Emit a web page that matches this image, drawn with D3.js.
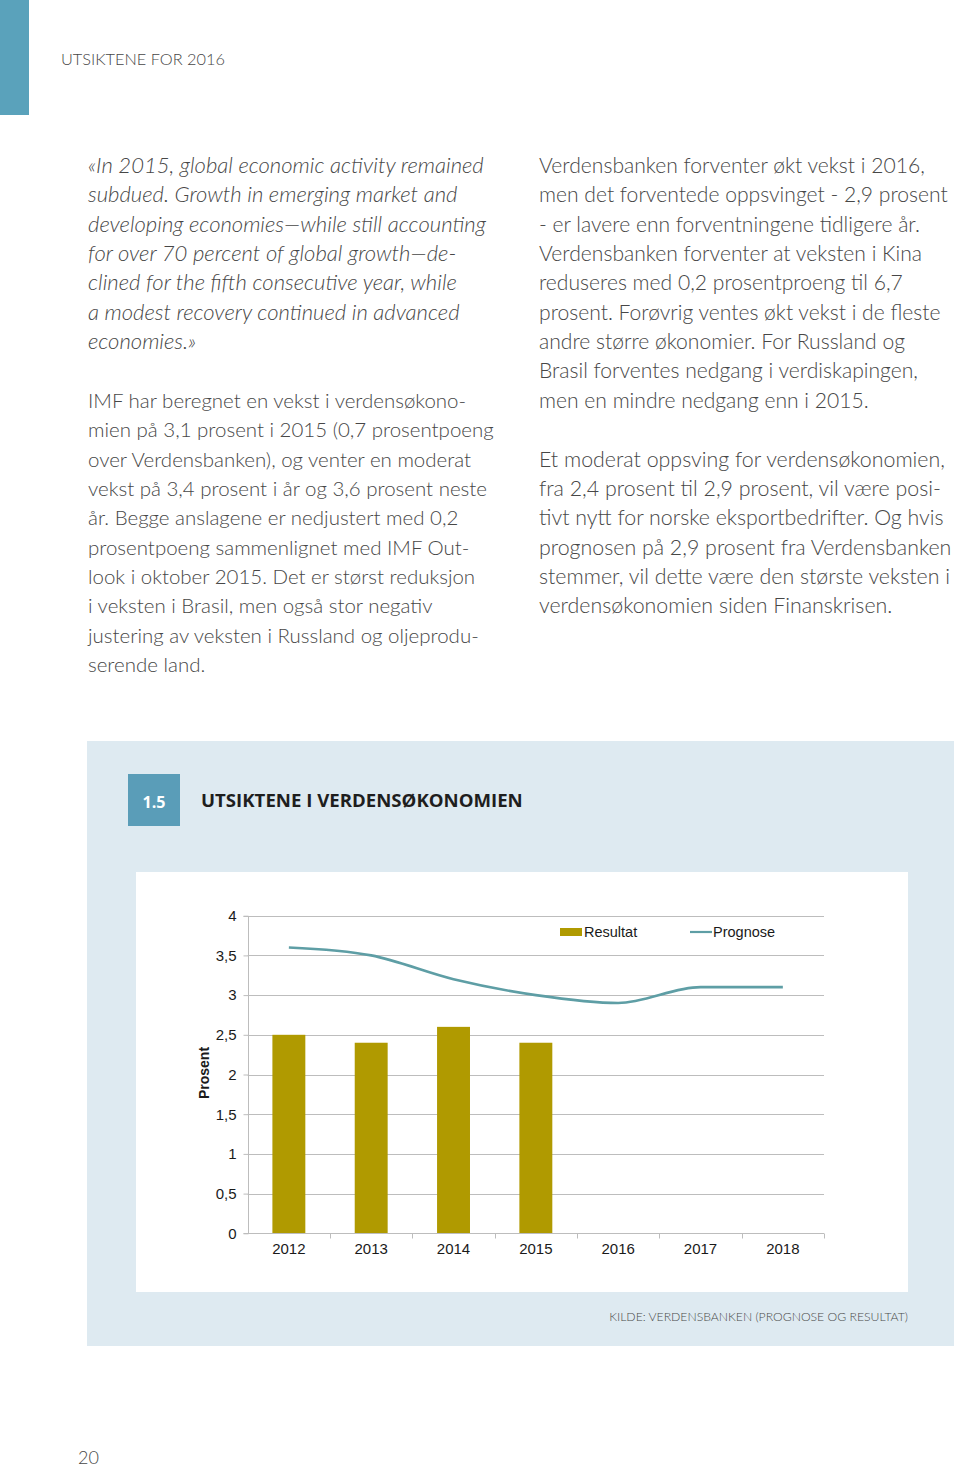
<!DOCTYPE html>
<html>
<head>
<meta charset="utf-8">
<script src="https://cdn.jsdelivr.net/npm/d3@7"></script>
<style>
  html, body { margin: 0; padding: 0; background: #fff; }
  svg { display: block; }
</style>
</head>
<body>
<svg id="page" width="960" height="1468"></svg>
<script>
// ---------- DATA ----------
const years = ["2012", "2013", "2014", "2015", "2016", "2017", "2018"];
const resultat = [2.5, 2.4, 2.6, 2.4, null, null, null];
const prognose = [3.6, 3.5, 3.2, 3.0, 2.9, 3.1, 3.1];
const yTicks = [0, 0.5, 1, 1.5, 2, 2.5, 3, 3.5, 4];
const seriesNames = ["Resultat", "Prognose"];

const pageHeader = "UTSIKTENE FOR 2016";
const chartNumber = "1.5";
const chartTitle = "UTSIKTENE I VERDENSØKONOMIEN";
const sourceText = "KILDE: VERDENSBANKEN (PROGNOSE OG RESULTAT)";
const yAxisTitle = "Prosent";
const pageNumber = "20";

const leftQuote = [
  "«In 2015, global economic activity remained",
  "subdued. Growth in emerging market and",
  "developing economies—while still accounting",
  "for over 70 percent of global growth—de-",
  "clined for the fifth consecutive year, while",
  "a modest recovery continued in advanced",
  "economies.»"
];
const leftBody = [
  "IMF har beregnet en vekst i verdensøkono-",
  "mien på 3,1 prosent i 2015 (0,7 prosentpoeng",
  "over Verdensbanken), og venter en moderat",
  "vekst på 3,4 prosent i år og 3,6 prosent neste",
  "år. Begge anslagene er nedjustert med 0,2",
  "prosentpoeng sammenlignet med IMF Out-",
  "look i oktober 2015. Det er størst reduksjon",
  "i veksten i Brasil, men også stor negativ",
  "justering av veksten i Russland og oljeprodu-",
  "serende land."
];
const rightPara1 = [
  "Verdensbanken forventer økt vekst i 2016,",
  "men det forventede oppsvinget - 2,9 prosent",
  "- er lavere enn forventningene tidligere år.",
  "Verdensbanken forventer at veksten i Kina",
  "reduseres med 0,2 prosentproeng til 6,7",
  "prosent. Forøvrig ventes økt vekst i de fleste",
  "andre større økonomier. For Russland og",
  "Brasil forventes nedgang i verdiskapingen,",
  "men en mindre nedgang enn i 2015."
];
const rightPara2 = [
  "Et moderat oppsving for verdensøkonomien,",
  "fra 2,4 prosent til 2,9 prosent, vil være posi-",
  "tivt nytt for norske eksportbedrifter. Og hvis",
  "prognosen på 2,9 prosent fra Verdensbanken",
  "stemmer, vil dette være den største veksten i",
  "verdensøkonomien siden Finanskrisen."
];

// ---------- HELPERS ----------
const svg = d3.select("#page");
const bodyFont = "Lato, 'Open Sans', sans-serif";
const chartFont = "'Liberation Sans', Arial, sans-serif";

function fitWidth(sel, target) {
  const node = sel.node();
  const w = node.getComputedTextLength();
  const fs = parseFloat(sel.attr("font-size"));
  const nfs = fs * target / w;
  sel.attr("font-size", nfs);
  return nfs;
}

function textBlock(lines, x, y0, lh, opts, fitIndex, fitTarget) {
  const g = svg.append("g");
  const t = g.selectAll("text").data(lines).join("text")
    .attr("x", x)
    .attr("y", (d, i) => y0 + i * lh)
    .attr("font-family", bodyFont)
    .attr("font-weight", 300)
    .attr("font-style", opts.italic ? "italic" : "normal")
    .attr("font-size", 20)
    .attr("fill", "#474747")
    .text(d => d);
  const ref = d3.select(t.nodes()[fitIndex]);
  const fs = fitWidth(ref, fitTarget);
  t.attr("font-size", fs);
}

// ---------- PAGE HEADER ----------
svg.append("rect").attr("x", 0).attr("y", 0).attr("width", 29).attr("height", 115).attr("fill", "#5aa2bb");
const hdr = svg.append("text").attr("x", 61).attr("y", 65)
  .attr("font-family", bodyFont).attr("font-weight", 300).attr("font-size", 17)
  .attr("fill", "#474747").text(pageHeader);
fitWidth(hdr, 164);

// ---------- BODY TEXT ----------
const LH = 29.35;
const Y0 = 173;
textBlock(leftQuote, 88, Y0, LH, { italic: true }, 0, 396);
textBlock(leftBody, 88, Y0 + 8 * LH, LH, { italic: false }, 1, 406);
textBlock(rightPara1, 539, Y0, LH, { italic: false }, 1, 409);
textBlock(rightPara2, 539, Y0 + 10 * LH, LH, { italic: false }, 0, 406);

// ---------- CHART SECTION ----------
svg.append("rect").attr("x", 87).attr("y", 741).attr("width", 867).attr("height", 605).attr("fill", "#deeaf1");
svg.append("rect").attr("x", 128).attr("y", 774).attr("width", 52).attr("height", 52).attr("fill", "#5a9db8");
const num = svg.append("text").attr("x", 154).attr("y", 808).attr("text-anchor", "middle")
  .attr("font-family", "'Open Sans', Lato, sans-serif").attr("font-weight", 700).attr("font-size", 18)
  .attr("fill", "#ffffff").text(chartNumber);
fitWidth(num, 23);
const ttl = svg.append("text").attr("x", 201).attr("y", 807)
  .attr("font-family", "'Open Sans', Lato, sans-serif").attr("font-weight", 700).attr("font-size", 19)
  .attr("fill", "#1e1e1e").text(chartTitle);
fitWidth(ttl, 322);

svg.append("rect").attr("x", 136).attr("y", 872).attr("width", 772).attr("height", 420).attr("fill", "#ffffff");

const src = svg.append("text").attr("x", 908).attr("y", 1321).attr("text-anchor", "end")
  .attr("font-family", bodyFont).attr("font-weight", 300).attr("font-size", 13)
  .attr("fill", "#4a4a4a").text(sourceText);
fitWidth(src, 299);

// ---------- CHART ----------
const plot = { left: 247.7, right: 824, top: 915.7, bottom: 1233.3 };
const x = d3.scaleBand().domain(years).range([plot.left, plot.right]).paddingInner(0).paddingOuter(0);
const y = d3.scaleLinear().domain([0, 4]).range([plot.bottom, plot.top]);
const barW = x.bandwidth() * 0.4;

const nbLocale = d3.formatLocale({ decimal: ",", thousands: " ", grouping: [3], currency: ["", " kr"] });
const fmt = nbLocale.format(".1~f");

const chart = svg.append("g");

// gridlines
chart.append("g").selectAll("line").data(yTicks.filter(d => d > 0)).join("line")
  .attr("x1", plot.left).attr("x2", plot.right)
  .attr("y1", d => Math.round(y(d)) + 0.5).attr("y2", d => Math.round(y(d)) + 0.5)
  .attr("stroke", "#bdbdbd").attr("stroke-width", 1);

// y axis
const yAxis = chart.append("g").attr("transform", `translate(${Math.round(plot.left) + 0.5},0)`)
  .call(d3.axisLeft(y).tickValues(yTicks).tickFormat(fmt).tickSize(5).tickPadding(7));
yAxis.select(".domain").attr("stroke", "#bdbdbd").attr("d", `M-5,${Math.round(plot.bottom) + 0.5}H0V${Math.round(plot.top) + 0.5}H-5`);
yAxis.selectAll(".tick line").attr("stroke", "#bdbdbd");
yAxis.selectAll(".tick text").attr("font-family", chartFont).attr("font-size", 15).attr("fill", "#1a1a1a");

// bars
chart.append("g").selectAll("rect")
  .data(years.map((yr, i) => ({ yr, v: resultat[i] })).filter(d => d.v != null))
  .join("rect")
  .attr("x", d => x(d.yr) + (x.bandwidth() - barW) / 2)
  .attr("y", d => y(d.v))
  .attr("width", barW)
  .attr("height", d => y(0) - y(d.v))
  .attr("fill", "#b09a00");

// x axis
const xAxis = chart.append("g").attr("transform", `translate(0,${Math.round(plot.bottom) + 0.5})`)
  .call(d3.axisBottom(x).tickSize(0).tickPadding(10));
xAxis.select(".domain").attr("stroke", "#bdbdbd").attr("d", `M${plot.left},0H${plot.right}`);
xAxis.selectAll(".tick text").attr("font-family", chartFont).attr("font-size", 15).attr("fill", "#1a1a1a");
// boundary tick marks
xAxis.append("g").selectAll("line").data(years.slice(1).concat(["__end"])).join("line")
  .attr("x1", (d, i) => Math.round(i < years.length - 1 ? x(d) : plot.right) + 0.5)
  .attr("x2", (d, i) => Math.round(i < years.length - 1 ? x(d) : plot.right) + 0.5)
  .attr("y1", 0).attr("y2", 5).attr("stroke", "#bdbdbd");

// prognose line
const line = d3.line()
  .x((d, i) => x(years[i]) + x.bandwidth() / 2)
  .y(d => y(d))
  .curve(d3.curveMonotoneX);
chart.append("path").datum(prognose).attr("d", line)
  .attr("fill", "none").attr("stroke", "#5e9ea5").attr("stroke-width", 2.6);

// y axis title
chart.append("text").attr("transform", "translate(209,1073) rotate(-90)")
  .attr("text-anchor", "middle").attr("font-family", chartFont).attr("font-weight", 700)
  .attr("font-size", 14).attr("fill", "#1a1a1a").text(yAxisTitle);

// legend
const lg = chart.append("g");
lg.append("rect").attr("x", 560).attr("y", 928).attr("width", 22).attr("height", 8).attr("fill", "#b09a00");
lg.append("text").attr("x", 584).attr("y", 937).attr("font-family", chartFont).attr("font-size", 14.5)
  .attr("fill", "#1a1a1a").text(seriesNames[0]);
lg.append("line").attr("x1", 690).attr("x2", 712).attr("y1", 932).attr("y2", 932)
  .attr("stroke", "#5e9ea5").attr("stroke-width", 2.2);
lg.append("text").attr("x", 713).attr("y", 937).attr("font-family", chartFont).attr("font-size", 14.5)
  .attr("fill", "#1a1a1a").text(seriesNames[1]);

// page number
svg.append("text").attr("x", 78).attr("y", 1464).attr("font-family", bodyFont).attr("font-weight", 300)
  .attr("font-size", 18).attr("fill", "#474747").text(pageNumber);
</script>
</body>
</html>
